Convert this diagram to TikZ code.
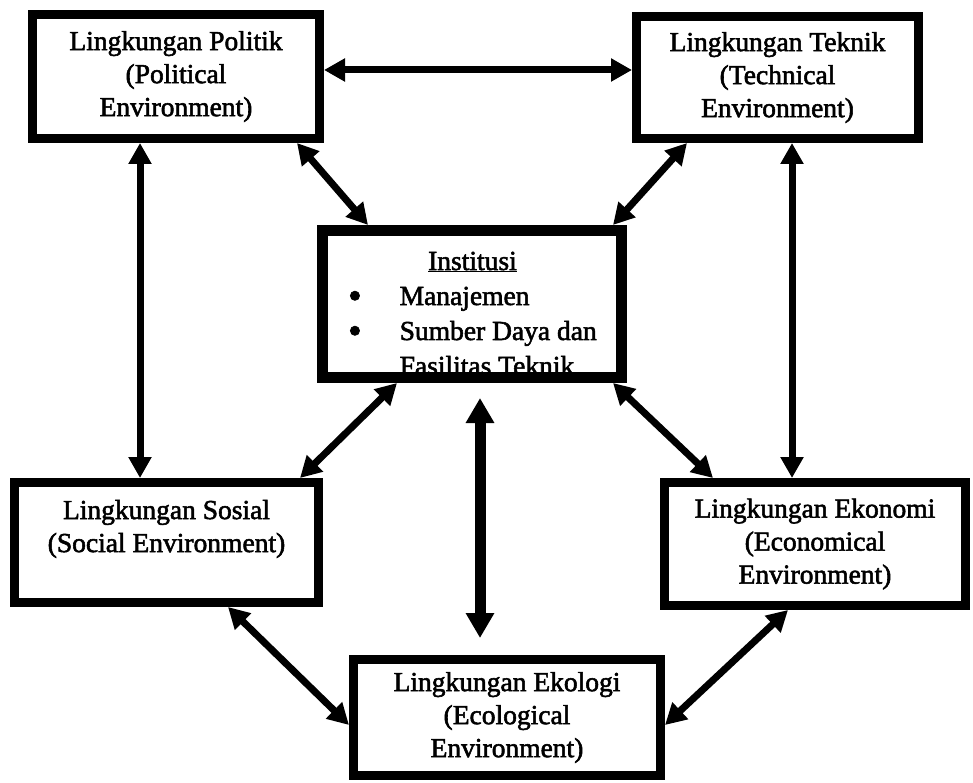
\documentclass[tikz,border=0pt]{standalone}
\usepackage{fontspec}
\setmainfont{Liberation Serif}[FakeBold=2]
\usetikzlibrary{arrows.meta}

\newcommand{\envfont}{\fontsize{27.5}{33}\selectfont}
\newcommand{\instfont}{\fontsize{27.5}{35}\selectfont}
\newcommand{\bigbullet}{\raisebox{-3.5pt}{\scalebox{1.4}{\textbullet}}}

\tikzset{
  box/.style={draw, line width=9pt, align=center, inner sep=0pt, font=\envfont},
  link/.style={line width=7pt, {Triangle[length=21pt,width=22pt]}-{Triangle[length=21pt,width=22pt]}},
  biglink/.style={line width=11pt, {Triangle[length=25pt,width=27pt]}-{Triangle[length=25pt,width=27pt]}}
}

\begin{document}
\begin{tikzpicture}[x=1pt, y=-1pt]
\useasboundingbox (0,0) rectangle (973,783);

% Boxes
\node[box, minimum width=287pt, minimum height=124pt] (pol) at (176,76.5) {Lingkungan Politik\\(Political\\Environment)};
\node[box, minimum width=282pt, minimum height=122pt] (tek) at (777.5,77.5) {Lingkungan Teknik\\(Technical\\Environment)};
\node[box, line width=11pt, minimum width=299pt, minimum height=147pt] (inst) at (472,304) {};
\node[box, minimum width=304pt, minimum height=120pt] (sos) at (166.5,542.5) {Lingkungan Sosial\\(Social Environment)\\\mbox{}};
\node[box, minimum width=301pt, minimum height=123pt] (eko) at (815,544) {Lingkungan Ekonomi\\(Economical\\Environment)};
\node[box, minimum width=307pt, minimum height=116pt] (eco) at (507,717.5) {Lingkungan Ekologi\\(Ecological\\Environment)};

% Institusi text, last line runs into the frame
\node[anchor=base west, inner sep=0pt, font=\instfont] (insttext) at (348,270)
  {\begin{tabular}[t]{@{}l@{\hspace{38pt}}l@{}}
   \multicolumn{2}{c}{\underline{Institusi}}\\
   \bigbullet & Manajemen\\
   \bigbullet & Sumber Daya dan\\
   & Fasilitas Teknik
   \end{tabular}};

% Arrows
\draw[link] ([yshift=6.5pt]pol.east) -- ([yshift=7.5pt]tek.west);
\draw[link] ([xshift=-36pt]pol.south) -- ([xshift=-26.5pt]sos.north);
\draw[link] ([xshift=14.5pt]tek.south) -- ([xshift=-23pt]eko.north);
\draw[link] ([xshift=121pt]pol.south) -- ([xshift=-104pt]inst.north);
\draw[link] ([xshift=-90.5pt]tek.south) -- ([xshift=141pt]inst.north);
\draw[link] ([xshift=-75pt]inst.south) -- ([xshift=133.5pt]sos.north);
\draw[link] ([xshift=141pt]inst.south) -- ([xshift=-102pt]eko.north);
\draw[link] ([xshift=61.5pt]sos.south) -- ([yshift=-7.5pt]eco.west);
\draw[link] ([xshift=-27pt]eko.south) -- ([yshift=-7.5pt]eco.east);

% Middle arrow
\coordinate (ctop) at (480,398);
\coordinate (cbot) at (480,638);
\draw[biglink] (ctop) -- (cbot);
\end{tikzpicture}
\end{document}
